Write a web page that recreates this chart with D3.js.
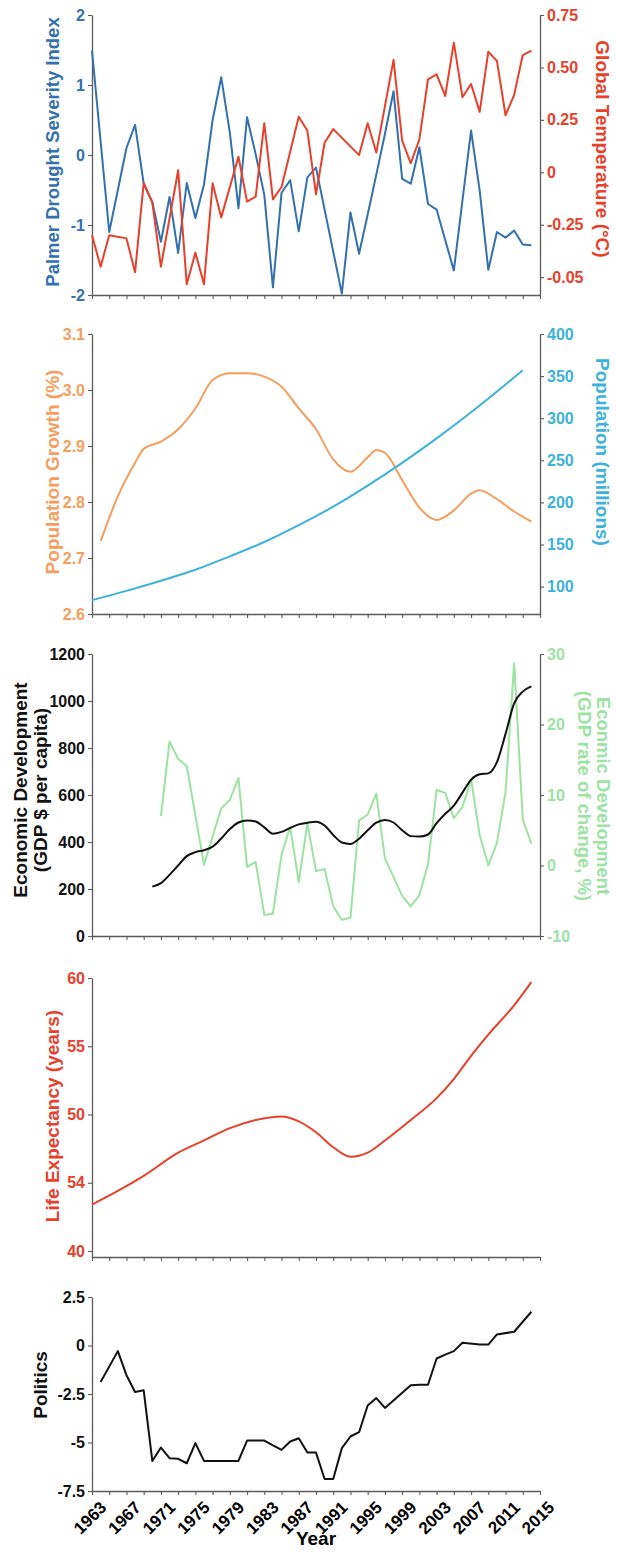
<!DOCTYPE html>
<html><head><meta charset="utf-8">
<script src="https://cdn.jsdelivr.net/npm/d3@7"></script>
<style>
html,body{margin:0;padding:0;background:#fff;}
svg{display:block;font-family:"Liberation Sans",Arial,sans-serif;font-weight:bold;}
</style></head>
<body>
<svg id="chart" width="617" height="1553"></svg>
<script>
// ---------- DATA ----------
const pdsiYears = [1963,1965,1967,1968,1969,1970,1971,1972,1973,1974,1975,1976,1977,1978,1979,1980,1981,1982,1983,1984,1985,1986,1987,1988,1989,1992,1993,1994,1995,1996,1997,1998,1999,2000,2001,2002,2003,2005,2007,2008,2009,2010,2011,2012,2013,2014];
const pdsiValues = [1.49,-1.10,0.10,0.43,-0.41,-0.67,-1.24,-0.60,-1.40,-0.40,-0.90,-0.42,0.50,1.11,0.32,-0.76,0.54,0.01,-0.57,-1.89,-0.54,-0.36,-1.09,-0.32,-0.18,-1.98,-0.82,-1.41,-0.85,-0.28,0.30,0.91,-0.34,-0.41,0.11,-0.70,-0.78,-1.65,0.35,-0.51,-1.64,-1.10,-1.18,-1.08,-1.28,-1.29];

const tempYears = [1963,1964,1965,1967,1968,1969,1970,1971,1973,1974,1975,1976,1977,1978,1980,1981,1982,1983,1984,1985,1987,1988,1989,1990,1991,1994,1995,1996,1998,1999,2000,2001,2002,2003,2004,2005,2006,2007,2008,2009,2010,2011,2012,2013,2014];
const tempValues = [-0.30,-0.45,-0.30,-0.315,-0.477,-0.05,-0.145,-0.45,0.01,-0.534,-0.383,-0.534,-0.052,-0.215,0.074,-0.14,-0.116,0.234,-0.129,-0.07,0.265,0.198,-0.105,0.141,0.206,0.082,0.234,0.094,0.536,0.151,0.043,0.157,0.443,0.467,0.364,0.618,0.358,0.421,0.288,0.575,0.531,0.272,0.369,0.559,0.58];

const popGrowthYears = [1964,1966,1968,1969,1971,1973,1975,1977,1979,1981,1983,1985,1987,1989,1991,1993,1995,1996,1997,1999,2001,2003,2005,2007,2008,2010,2012,2014];
const popGrowthValues = [2.730,2.810,2.870,2.895,2.908,2.930,2.967,3.018,3.030,3.030,3.024,3.006,2.967,2.930,2.876,2.854,2.880,2.893,2.888,2.839,2.790,2.768,2.785,2.815,2.821,2.805,2.783,2.765];

const popYears = [1963,1967,1971,1975,1979,1983,1987,1991,1995,1999,2003,2007,2011,2013];
const popValues = [84,95,107,120,136,153,173,195,220,247,276,307,340,357];

const gdpYears = [1970,1971,1972,1973,1974,1975,1976,1977,1978,1979,1980,1981,1982,1983,1984,1985,1986,1987,1988,1989,1990,1991,1992,1993,1994,1995,1996,1997,1998,1999,2000,2001,2002,2003,2004,2005,2006,2007,2008,2009,2010,2011,2012,2013,2014];
const gdpValues = [210,225,260,300,340,357,365,380,415,455,483,492,487,462,435,443,460,475,482,486,470,430,398,392,414,450,482,494,483,450,425,423,432,480,520,555,610,665,688,692,740,860,990,1040,1062];

const gdpRateYears = [1971,1972,1973,1974,1976,1978,1979,1980,1981,1982,1983,1984,1985,1986,1987,1988,1989,1990,1991,1992,1993,1994,1995,1996,1997,1999,2000,2001,2002,2003,2004,2005,2006,2007,2008,2009,2010,2011,2012,2013,2014];
const gdpRateValues = [7.0,17.6,15.1,14.1,0.1,8.1,9.3,12.4,-0.2,0.5,-7.05,-6.8,1.5,5.5,-2.4,6.0,-0.8,-0.5,-5.8,-7.7,-7.4,6.4,7.2,10.2,1.0,-4.3,-5.8,-4.2,0.2,10.7,10.3,6.7,8.3,12.2,4.3,0.0,3.2,10.4,28.7,6.5,3.1];

const lifeYears = [1963,1966,1969,1973,1976,1979,1982,1985,1987,1989,1991,1993,1995,1997,2000,2003,2005,2007,2009,2012,2014];
const lifeValues = [43.4,44.4,45.5,47.2,48.1,49.0,49.6,49.86,49.5,48.7,47.6,46.9,47.2,48.1,49.6,51.2,52.6,54.3,55.85,58.0,59.7];

const polYears = [1964,1966,1967,1968,1969,1970,1971,1972,1973,1974,1975,1976,1977,1978,1979,1980,1981,1982,1983,1984,1985,1986,1987,1988,1989,1990,1991,1992,1993,1994,1995,1996,1997,2000,2001,2002,2003,2004,2005,2006,2008,2009,2010,2012,2014];
const polValues = [-1.88,-0.29,-1.53,-2.40,-2.31,-5.95,-5.26,-5.81,-5.84,-6.07,-5.03,-5.95,-5.95,-5.95,-5.95,-5.95,-4.90,-4.90,-4.90,-5.15,-5.38,-4.95,-4.78,-5.52,-5.52,-6.88,-6.88,-5.29,-4.69,-4.47,-3.09,-2.71,-3.22,-2.05,-2.02,-2.02,-0.67,-0.47,-0.29,0.14,0.05,0.05,0.57,0.71,1.74];

const yearTicks = d3.range(1963, 2016, 2);
const yearLabels = d3.range(1963, 2016, 4);

// tick labels
const pdsiTicks = [-2,-1,0,1,2];
const pdsiTickLabels = ["-2","-1","0","1","2"];
const tempTicks = [-0.5,-0.25,0,0.25,0.5,0.75];
const tempTickLabels = ["-0.05","-0.25","0","0.25","0.50","0.75"];
const growthTicks = [2.6,2.7,2.8,2.9,3.0,3.1];
const growthTickLabels = ["2.6","2.7","2.8","2.9","3.0","3.1"];
const popTicks = [100,150,200,250,300,350,400];
const popTickLabels = ["100","150","200","250","300","350","400"];
const gdpTicks = [0,200,400,600,800,1000,1200];
const gdpTickLabels = ["0","200","400","600","800","1000","1200"];
const rateTicks = [-10,0,10,20,30];
const rateTickLabels = ["-10","0","10","20","30"];
const lifeTicks = [40,45,50,55,60];
const lifeTickLabels = ["40","54","50","55","60"];
const polTicks = [-7.5,-5,-2.5,0,2.5];
const polTickLabels = ["-7.5","-5","-2.5","0","2.5"];

// ---------- DRAW ----------
const svg = d3.select("#chart");
const XL = 92, XR = 540;
const x = d3.scaleLinear().domain([1963, 2015]).range([XL, XR]);
const AXIS = "#5a5a5a";
const TICKFONT = 16, TITLEFONT = 19;
const C = {
  blue: "#3270ae", red: "#e8402a", orange: "#f79d5c", sky: "#3cb2da",
  black: "#111111", green: "#9ce3a2"
};

function styleAxis(g, color) {
  g.selectAll("path.domain").attr("stroke", AXIS).attr("stroke-width", 1.3);
  g.selectAll(".tick line").attr("stroke", AXIS).attr("stroke-width", 1.1);
  g.selectAll(".tick text").attr("fill", color)
    .style("font-family", '"Liberation Sans",Arial,sans-serif')
    .style("font-weight", "bold").style("font-size", TICKFONT + "px");
}

function xAxis(bottomY) {
  const g = svg.append("g").attr("transform", `translate(0,${bottomY})`)
    .call(d3.axisBottom(x).tickValues(yearTicks).tickSize(4).tickSizeOuter(0).tickFormat(""));
  styleAxis(g, "#000");
  return g;
}

function leftAxis(y, ticks, labels, color) {
  const g = svg.append("g").attr("transform", `translate(${XL},0)`)
    .call(d3.axisLeft(y).tickValues(ticks).tickSize(4).tickSizeOuter(0).tickPadding(3)
      .tickFormat((d) => labels[ticks.indexOf(d)]));
  styleAxis(g, color);
}
function rightAxis(y, ticks, labels, color) {
  const g = svg.append("g").attr("transform", `translate(${XR},0)`)
    .call(d3.axisRight(y).tickValues(ticks).tickSize(4).tickSizeOuter(0).tickPadding(3)
      .tickFormat((d) => labels[ticks.indexOf(d)]));
  styleAxis(g, color);
}

function drawLine(years, values, y, color, width, curve) {
  const data = years.map((yr, i) => [yr, values[i]]);
  svg.append("path").datum(data)
    .attr("fill", "none").attr("stroke", color).attr("stroke-width", width)
    .attr("stroke-linejoin", "round")
    .attr("d", d3.line().x(d => x(d[0])).y(d => y(d[1])).curve(curve || d3.curveLinear));
}

function vTitle(lines, cx, cy, color, rot, size, lhf) {
  const s = size || TITLEFONT;
  const t = svg.append("text")
    .attr("transform", `translate(${cx},${cy}) rotate(${rot})`)
    .attr("text-anchor", "middle").attr("fill", color)
    .style("font-size", s + "px").style("font-weight", "bold");
  const lh = s * (lhf || 1.1);
  lines.forEach((l, i) => {
    t.append("tspan").attr("x", 0)
      .attr("dy", i === 0 ? (-(lines.length - 1) * lh / 2 + s * 0.36) : lh).text(l);
  });
}

// Panel 1
{
  const top = 15, bot = 295;
  const yL = d3.scaleLinear().domain([-2, 2]).range([bot, top]);
  const yR = d3.scaleLinear().domain([-0.585, 0.75]).range([bot, top]);
  xAxis(bot);
  leftAxis(yL, pdsiTicks, pdsiTickLabels, C.blue);
  rightAxis(yR, tempTicks, tempTickLabels, C.red);
  drawLine(pdsiYears, pdsiValues, yL, C.blue, 2);
  drawLine(tempYears, tempValues, yR, C.red, 2);
  vTitle(["Palmer Drought Severity Index"], 52, 152, C.blue, -90, 18.5);
  vTitle(["Global Temperature (\u00B0C)"], 603, 149, C.red, 90);
}
// Panel 2
{
  const top = 334, bot = 614;
  const yL = d3.scaleLinear().domain([2.6, 3.1]).range([bot, top]);
  const yR = d3.scaleLinear().domain([67.5, 400]).range([bot, top]);
  xAxis(bot);
  leftAxis(yL, growthTicks, growthTickLabels, C.orange);
  rightAxis(yR, popTicks, popTickLabels, C.sky);
  drawLine(popGrowthYears, popGrowthValues, yL, C.orange, 2, d3.curveMonotoneX);
  drawLine(popYears, popValues, yR, C.sky, 2, d3.curveMonotoneX);
  vTitle(["Population Growth (%)"], 52, 472, C.orange, -90);
  vTitle(["Population (millions)"], 603, 452, C.sky, 90);
}
// Panel 3
{
  const top = 654, bot = 936;
  const yL = d3.scaleLinear().domain([0, 1200]).range([bot, top]);
  const yR = d3.scaleLinear().domain([-10, 30]).range([bot, top]);
  xAxis(bot);
  leftAxis(yL, gdpTicks, gdpTickLabels, C.black);
  rightAxis(yR, rateTicks, rateTickLabels, C.green);
  drawLine(gdpRateYears, gdpRateValues, yR, C.green, 2);
  drawLine(gdpYears, gdpValues, yL, C.black, 2, d3.curveMonotoneX);
  vTitle(["Economic Development", "(GDP $ per capita)"], 30, 790, C.black, -90, 19, 1.05);
  vTitle(["Econmic Development", "(GDP rate of change, %)"], 594, 796, C.green, 90, 18.5, 1.05);
}
// Panel 4
{
  const top = 978, bot = 1257;
  const yL = d3.scaleLinear().domain([39.56, 60]).range([bot, top]);
  xAxis(bot);
  leftAxis(yL, lifeTicks, lifeTickLabels, C.red);
  drawLine(lifeYears, lifeValues, yL, C.red, 2, d3.curveMonotoneX);
  vTitle(["Life Expectancy (years)"], 52, 1116, C.red, -90);
}
// Panel 5
{
  const top = 1297, bot = 1491;
  const yL = d3.scaleLinear().domain([-7.5, 2.5]).range([bot, top]);
  xAxis(bot);
  leftAxis(yL, polTicks, polTickLabels, C.black);
  drawLine(polYears, polValues, yL, C.black, 2);
  vTitle(["Politics"], 40, 1385, C.black, -90);
  svg.append("g").selectAll("text").data(yearLabels).join("text")
    .attr("transform", d => `translate(${x(d) + 7},${bot + 9}) rotate(-45)`)
    .attr("text-anchor", "end").attr("dy", "0.71em")
    .style("font-size", "17px").style("font-weight", "bold").attr("fill", "#000")
    .text(d => d);
  svg.append("text").attr("x", (XL + XR) / 2).attr("y", 1545)
    .attr("text-anchor", "middle").style("font-size", "19px").style("font-weight", "bold")
    .text("Year");
}
</script>
</body></html>
